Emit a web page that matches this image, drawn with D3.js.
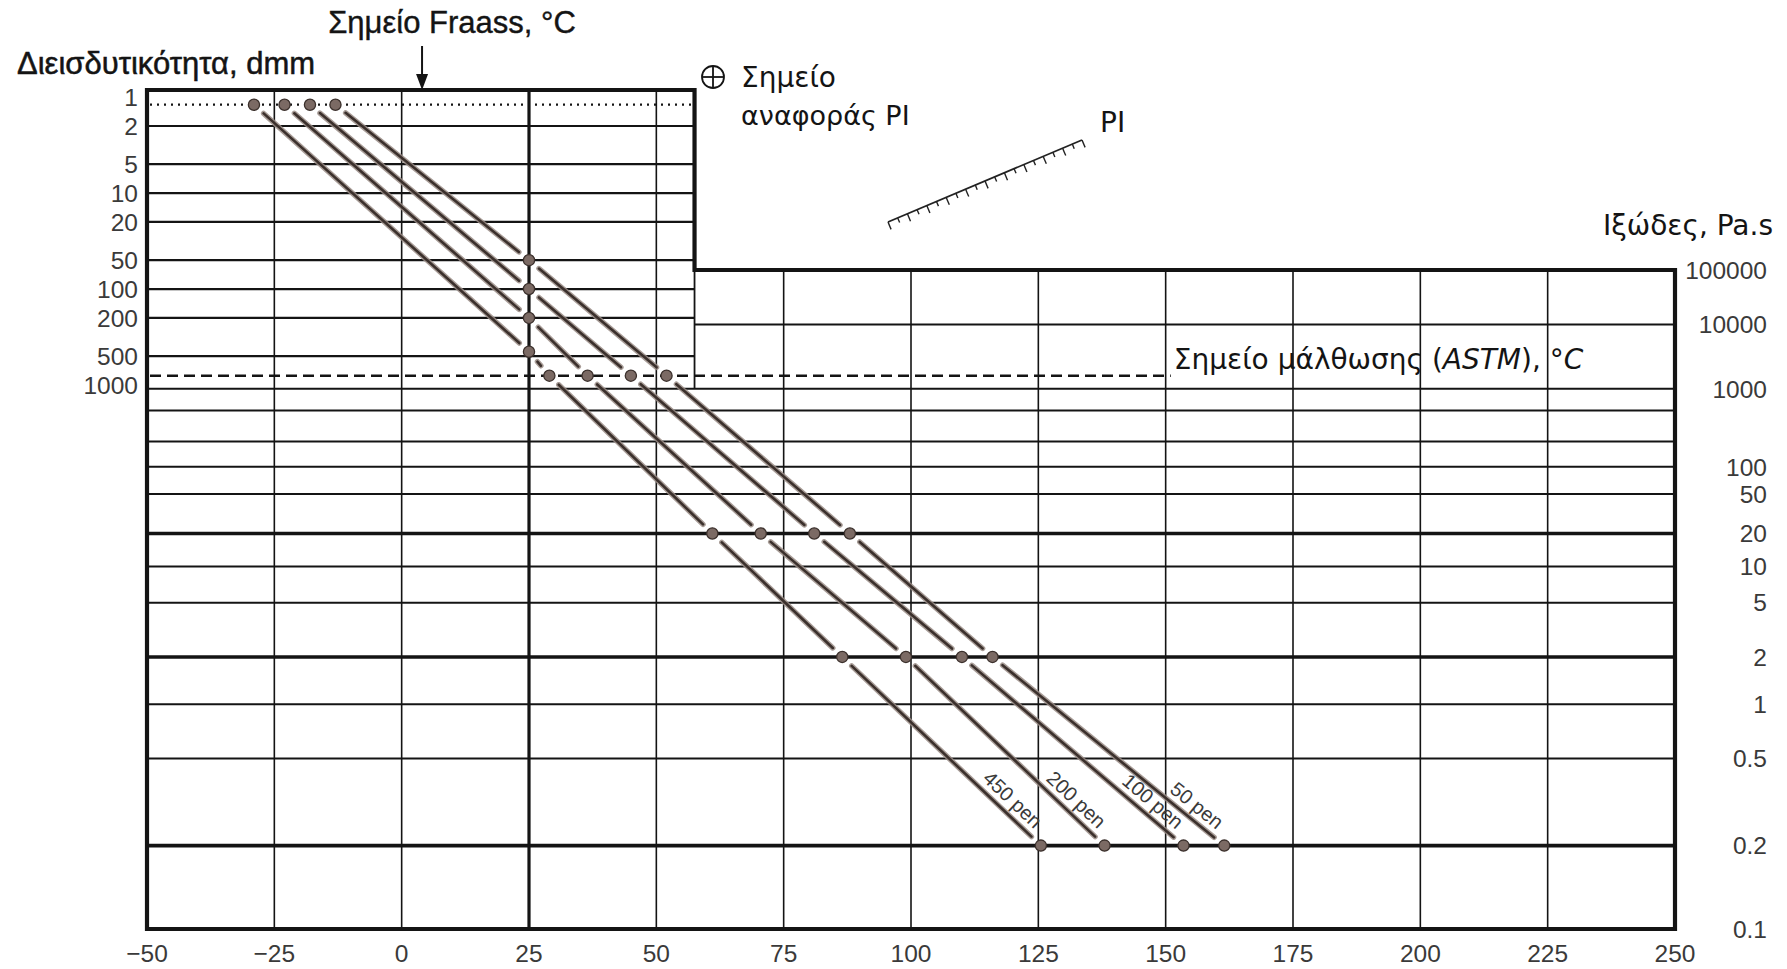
<!DOCTYPE html>
<html>
<head>
<meta charset="utf-8">
<script src="https://cdn.jsdelivr.net/npm/d3@7"></script>
<style>
  html, body { margin: 0; padding: 0; background: #fff; }
  svg { display: block; }
</style>
</head>
<body>
<svg id="chart" width="1787" height="969"></svg>
<script>
// Temperature axis, °C
const tempTicks = [-50, -25, 0, 25, 50, 75, 100, 125, 150, 175, 200, 225, 250];

// Penetration (dmm), left axis
const penTicks = [1, 2, 5, 10, 20, 50, 100, 200, 500, 1000];
const penGrid = [2, 5, 10, 20, 50, 100, 200, 500];

// Viscosity (Pa.s), right axis
const viscTicks = [100000, 10000, 1000, 100, 50, 20, 10, 5, 2, 1, 0.5, 0.2, 0.1];
const viscGridUpper = [10000];
const viscGrid = [1000, 500, 200, 100, 50, 20, 10, 5, 2, 1, 0.5, 0.2];
const viscHeavy = [20, 2, 0.2];

// Bitumen grades and their test results
const grades = ["450 pen", "200 pen", "100 pen", "50 pen"];
const penAt25 = [450, 200, 100, 50];          // penetration at 25 °C
const fraassPoint = [-29, -23, -18, -13];     // Fraass breaking point, °C
const softeningPoint = [29, 36.5, 45, 52];    // softening point (ASTM), °C
const tempAt20 = [61, 70.5, 81, 88];          // °C at 20 Pa.s
const tempAt2 = [86.5, 99, 110, 116];         // °C at 2 Pa.s
const tempAt02 = [125.5, 138, 153.5, 161.5];  // °C at 0.2 Pa.s

const fraassPen = 1.2;      // penetration level of the Fraass line
const softeningPen = 800;   // penetration level of the softening point line
const panelEdge = 57.5;     // °C, right edge of the penetration panel
const softeningLineEnd = 151;
const fraassArrowAt = 4;
const piTicks = d3.range(-2.5, 2.5001, 0.25);

// ---------- scales ----------
const x = d3.scaleLinear().domain([-50, 250]).range([147, 1675]);
const yPen = d3.scaleLog().domain([2, 1000]).range([126, 385]);
// viscosity axis is a log-log type scale
const C = 2.165;
const vt = v => Math.log(Math.log10(v) + C);
const yVlin = d3.scaleLinear().domain([vt(0.1), vt(100000)]).range([929, 270]);
const yV = v => yVlin(vt(v));

const svg = d3.select("#chart");
const frameTop = 90;
const xL = x(-50), xR = x(250), xE = x(panelEdge);
const yStep = yV(100000), yBot = yV(0.1);

const INK = "#141414";

// ---------- grid ----------
const grid = svg.append("g").attr("stroke", INK).attr("fill", "none");

grid.append("g").selectAll("line")
  .data(tempTicks.filter(t => t > -50 && t < panelEdge))
  .join("line")
  .attr("x1", d => x(d)).attr("x2", d => x(d))
  .attr("y1", frameTop).attr("y2", yBot)
  .attr("stroke-width", d => d === 25 ? 3.2 : 1.6);

grid.append("g").selectAll("line")
  .data(tempTicks.filter(t => t > panelEdge && t < 250))
  .join("line")
  .attr("x1", d => x(d)).attr("x2", d => x(d))
  .attr("y1", yStep).attr("y2", yBot)
  .attr("stroke-width", 1.6);

grid.append("g").selectAll("line")
  .data(penGrid)
  .join("line")
  .attr("x1", xL).attr("x2", xE)
  .attr("y1", d => yPen(d)).attr("y2", d => yPen(d))
  .attr("stroke-width", 2.2);

grid.append("g").selectAll("line")
  .data(viscGridUpper)
  .join("line")
  .attr("x1", xE).attr("x2", xR)
  .attr("y1", d => yV(d)).attr("y2", d => yV(d))
  .attr("stroke-width", 2);

grid.append("g").selectAll("line")
  .data(viscGrid)
  .join("line")
  .attr("x1", xL).attr("x2", xR)
  .attr("y1", d => yV(d)).attr("y2", d => yV(d))
  .attr("stroke-width", d => viscHeavy.includes(d) ? 3.6 : 2);

// lower part of the penetration panel edge
grid.append("line")
  .attr("x1", xE).attr("x2", xE)
  .attr("y1", yStep).attr("y2", yV(1000))
  .attr("stroke-width", 1.8);

// stepped outer frame
grid.append("path")
  .attr("d", `M${xL},${frameTop}H${xE}V${yStep}H${xR}V${yBot}H${xL}Z`)
  .attr("stroke-width", 4.2)
  .attr("stroke-linejoin", "miter");

// Fraass line (dotted) and softening point line (dashed)
grid.append("line")
  .attr("x1", xL + 3).attr("x2", xE - 3)
  .attr("y1", yPen(fraassPen)).attr("y2", yPen(fraassPen))
  .attr("stroke-width", 2.2)
  .attr("stroke-dasharray", "2 5");

grid.append("line")
  .attr("x1", xL + 3).attr("x2", x(softeningLineEnd))
  .attr("y1", yPen(softeningPen)).attr("y2", yPen(softeningPen))
  .attr("stroke-width", 2.4)
  .attr("stroke-dasharray", "11 6");

// ---------- bitumen lines ----------
const series = grades.map((g, i) => ({
  grade: g,
  pts: [
    [x(fraassPoint[i]), yPen(fraassPen)],
    [x(25), yPen(penAt25[i])],
    [x(softeningPoint[i]), yPen(softeningPen)],
    [x(tempAt20[i]), yV(20)],
    [x(tempAt2[i]), yV(2)],
    [x(tempAt02[i]), yV(0.2)]
  ]
}));

const GAP = 13;
const segments = [];
series.forEach(s => {
  for (let k = 0; k < s.pts.length - 1; k++) {
    const [a, b] = [s.pts[k], s.pts[k + 1]];
    const dx = b[0] - a[0], dy = b[1] - a[1];
    const len = Math.hypot(dx, dy);
    const ux = dx / len, uy = dy / len;
    segments.push({
      x1: a[0] + ux * GAP, y1: a[1] + uy * GAP,
      x2: b[0] - ux * GAP, y2: b[1] - uy * GAP
    });
  }
});

const lines = svg.append("g").attr("stroke-linecap", "round");
lines.selectAll("line.halo").data(segments).join("line")
  .attr("class", "halo")
  .attr("x1", d => d.x1).attr("y1", d => d.y1)
  .attr("x2", d => d.x2).attr("y2", d => d.y2)
  .attr("stroke", "#9a8c86").attr("stroke-width", 5.4).attr("opacity", 0.85);
lines.selectAll("line.core").data(segments).join("line")
  .attr("class", "core")
  .attr("x1", d => d.x1).attr("y1", d => d.y1)
  .attr("x2", d => d.x2).attr("y2", d => d.y2)
  .attr("stroke", "#3b302c").attr("stroke-width", 2.6);

const dots = series.flatMap(s => s.pts);
svg.append("g").selectAll("circle").data(dots).join("circle")
  .attr("cx", d => d[0]).attr("cy", d => d[1]).attr("r", 5.6)
  .attr("fill", "#7b6a64").attr("stroke", "#3b302c").attr("stroke-width", 1.3);

// grade labels along the lowest segment
const gradeLabels = svg.append("g")
  .attr("font-family", "'Liberation Sans', Arial, sans-serif")
  .attr("font-size", 20).attr("fill", "#3a3a3a");
series.forEach(s => {
  const a = s.pts[4], b = s.pts[5];
  const dx = b[0] - a[0], dy = b[1] - a[1];
  const len = Math.hypot(dx, dy);
  const ux = dx / len, uy = dy / len;
  const nx = uy, ny = -ux;   // normal towards upper right
  const px = b[0] - ux * 16 + nx * 7;
  const py = b[1] - uy * 16 + ny * 7;
  const ang = Math.atan2(dy, dx) * 180 / Math.PI;
  gradeLabels.append("text")
    .attr("transform", `translate(${px},${py}) rotate(${ang})`)
    .attr("text-anchor", "end")
    .text(s.grade);
});

// ---------- axis labels ----------
const tickFont = "'Liberation Sans', Arial, Helvetica, sans-serif";
const ticks = svg.append("g")
  .attr("font-family", tickFont).attr("font-size", 24.5).attr("fill", "#3a3a3a");

ticks.append("g").selectAll("text").data(tempTicks).join("text")
  .attr("x", d => x(d)).attr("y", 962)
  .attr("text-anchor", "middle")
  .text(d => d < 0 ? "\u2212" + Math.abs(d) : d);

ticks.append("g").selectAll("text").data(penTicks).join("text")
  .attr("x", 138).attr("y", d => yPen(d)).attr("dy", "0.36em")
  .attr("text-anchor", "end")
  .text(d => d);

ticks.append("g").selectAll("text").data(viscTicks).join("text")
  .attr("x", 1767).attr("y", d => yV(d)).attr("dy", "0.36em")
  .attr("text-anchor", "end")
  .text(d => d);

// ---------- titles and annotations ----------
const ann = svg.append("g").attr("fill", INK);

ann.append("text")
  .attr("x", 17).attr("y", 74)
  .attr("font-family", "'Liberation Sans', Arial, sans-serif")
  .attr("font-size", 31)
  .attr("stroke", INK).attr("stroke-width", 0.5)
  .text("Διεισδυτικότητα, dmm");

ann.append("text")
  .attr("x", 452).attr("y", 33)
  .attr("text-anchor", "middle")
  .attr("font-family", "'Liberation Sans', Arial, sans-serif")
  .attr("font-size", 31)
  .attr("stroke", INK).attr("stroke-width", 0.4)
  .text("Σημείο Fraass, °C");

// arrow pointing at the Fraass line
const ax = x(fraassArrowAt);
ann.append("line")
  .attr("x1", ax).attr("x2", ax).attr("y1", 46).attr("y2", 78)
  .attr("stroke", INK).attr("stroke-width", 2);
ann.append("path")
  .attr("d", `M${ax - 6},${74}L${ax + 6},${74}L${ax},${frameTop}Z`);

// PI reference point legend
const lg = svg.append("g").attr("stroke", INK).attr("fill", "none").attr("stroke-width", 1.8);
lg.append("circle").attr("cx", 713).attr("cy", 77).attr("r", 11);
lg.append("line").attr("x1", 702).attr("x2", 724).attr("y1", 77).attr("y2", 77);
lg.append("line").attr("x1", 713).attr("x2", 713).attr("y1", 66).attr("y2", 88);

const sideFont = "'DejaVu Sans', Verdana, sans-serif";
ann.append("text")
  .attr("x", 741).attr("y", 87)
  .attr("font-family", sideFont).attr("font-size", 28)
  .text("Σημείο");
ann.append("text")
  .attr("x", 741).attr("y", 125)
  .attr("font-family", sideFont).attr("font-size", 27)
  .text("αναφοράς PI");

// PI scale
const piStart = [888, 222], piEnd = [1082, 140];
const piPos = d3.scaleLinear().domain([-2.5, 2.5]).range([0, 1]);
const pdx = piEnd[0] - piStart[0], pdy = piEnd[1] - piStart[1];
const plen = Math.hypot(pdx, pdy);
const pnx = -pdy / plen, pny = pdx / plen; // normal pointing down
const pg = svg.append("g").attr("stroke", "#222").attr("fill", "none");
pg.append("line")
  .attr("x1", piStart[0]).attr("y1", piStart[1])
  .attr("x2", piEnd[0]).attr("y2", piEnd[1])
  .attr("stroke-width", 1.8);
pg.selectAll("line.t").data(piTicks).join("line")
  .attr("class", "t")
  .each(function (d, i) {
    const f = piPos(d);
    const bx = piStart[0] + pdx * f, by = piStart[1] + pdy * f;
    const L = i % 2 === 0 ? 8 : 5;
    d3.select(this)
      .attr("x1", bx).attr("y1", by)
      .attr("x2", bx + pnx * L).attr("y2", by + pny * L)
      .attr("stroke-width", 1.4);
  });

ann.append("text")
  .attr("x", 1100).attr("y", 132)
  .attr("font-family", sideFont).attr("font-size", 28)
  .text("PI");

ann.append("text")
  .attr("x", 1773).attr("y", 235)
  .attr("text-anchor", "end")
  .attr("font-family", sideFont).attr("font-size", 28)
  .text("Ιξώδες, Pa.s");

const sp = ann.append("text")
  .attr("x", x(softeningLineEnd) + 3).attr("y", 369)
  .attr("font-family", sideFont).attr("font-size", 28);
sp.append("tspan").text("Σημείο μάλθωσης (");
sp.append("tspan").attr("font-style", "italic").text("ASTM");
sp.append("tspan").text("), °");
sp.append("tspan").attr("font-style", "italic").text("C");
</script>
</body>
</html>
